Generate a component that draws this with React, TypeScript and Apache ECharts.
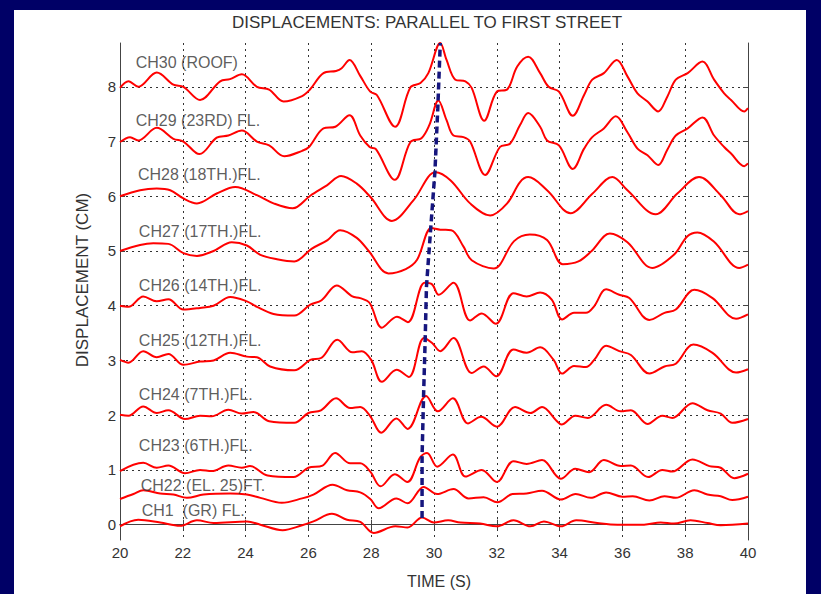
import React, { useEffect, useRef } from "react";
import * as echarts from "echarts";

// ---- data ----
const yTicks = [0, 1, 2, 3, 4, 5, 6, 7, 8];
const channelNames = [
  "CH30 (ROOF)",
  "CH29 (23RD) FL.",
  "CH28 (18TH.)FL.",
  "CH27 (17TH.)FL.",
  "CH26 (14TH.)FL.",
  "CH25 (12TH.)FL.",
  "CH24 (7TH.)FL.",
  "CH23 (6TH.)FL.",
  "CH22 (EL. 25)FT.",
  "CH1  (GR) FL.",
];
const baselines = [8, 7, 6, 5, 4, 3, 2, 1, 0.5, 0];
const labelT = [20.5, 20.5, 20.57, 20.6, 20.6, 20.6, 20.6, 20.6, 20.66, 20.69];
const labelY = [8.44, 7.38, 6.39, 5.35, 4.37, 3.37, 2.37, 1.44, 0.71, 0.25];

// [time (s), deviation from baseline (cm)]
const ch30: [number, number][] = [
  [20, -0.02], [20.27, 0.1], [20.58, 0.0], [21.17, 0.26], [21.7, 0.04], [22.02, 0.0], [22.55, -0.24],
  [23.19, 0.1], [23.5, 0.14], [23.88, 0.23], [24.36, 0.0], [24.75, -0.05], [25.21, -0.27], [25.8, -0.17],
  [26.05, -0.05], [26.48, 0.25], [26.88, 0.29], [27.06, 0.34], [27.31, 0.49], [27.65, 0.2], [27.97, -0.09],
  [28.18, -0.15], [28.76, -0.73], [29.25, -0.01], [29.57, 0.07], [29.82, 0.25], [30.2, 0.8], [30.4, 0.49],
  [30.68, 0.13], [31.0, 0.1], [31.2, -0.02], [31.6, -0.62], [32.0, -0.09], [32.33, -0.05], [32.65, 0.37],
  [33.0, 0.55], [33.38, 0.25], [33.65, 0.0], [33.98, -0.09], [34.42, -0.53], [34.78, -0.15], [35.04, 0.13],
  [35.41, 0.25], [35.82, 0.49], [36.16, 0.19], [36.48, -0.12], [36.8, -0.27], [37.14, -0.45], [37.43, -0.18],
  [37.7, 0.13], [38.08, 0.25], [38.55, 0.46], [38.92, 0.13], [39.24, -0.12], [39.46, -0.24], [39.88, -0.45],
  [40, -0.39],
];
const ch29: [number, number][] = [
  [20, -0.01], [20.32, 0.08], [20.58, 0.02], [21.17, 0.25], [21.7, 0.05], [22.02, 0.0], [22.53, -0.23],
  [23.08, 0.07], [23.45, 0.11], [23.88, 0.2], [24.36, 0.0], [24.75, -0.07], [25.23, -0.27], [25.8, -0.17],
  [26.02, -0.1], [26.48, 0.24], [26.86, 0.27], [27.31, 0.48], [27.65, 0.11], [27.95, -0.1], [28.15, -0.14],
  [28.75, -0.7], [29.25, -0.01], [29.6, 0.06], [29.85, 0.3], [30.14, 0.75], [30.4, 0.39], [30.62, 0.11],
  [30.94, 0.08], [31.15, 0.0], [31.63, -0.61], [32.1, -0.1], [32.42, -0.04], [32.74, 0.3], [33.0, 0.52],
  [33.38, 0.27], [33.6, 0.02], [33.98, -0.07], [34.42, -0.5], [34.78, -0.13], [35.04, 0.08], [35.41, 0.24],
  [35.79, 0.46], [36.16, 0.17], [36.48, -0.13], [36.8, -0.25], [37.14, -0.43], [37.43, -0.15], [37.7, 0.11],
  [38.08, 0.24], [38.55, 0.44], [38.92, 0.11], [39.24, -0.1], [39.46, -0.22], [39.88, -0.45], [40, -0.4],
];
const ch28: [number, number][] = [
  [20, 0.0], [20.64, 0.11], [21.17, 0.14], [21.6, 0.11], [22.02, -0.04], [22.45, -0.13], [23.08, 0.05],
  [23.67, 0.17], [24.36, 0.02], [24.89, -0.13], [25.5, -0.22], [26.06, 0.01], [26.59, 0.2], [27.04, 0.37],
  [27.54, 0.23], [27.97, -0.01], [28.66, -0.45], [29.35, -0.07], [30.05, 0.44], [30.53, 0.29], [31.15, -0.13],
  [31.79, -0.35], [32.33, -0.13], [32.74, 0.26], [33.0, 0.35], [33.6, 0.11], [34.35, -0.31], [35.05, 0.05],
  [35.68, 0.35], [36.16, 0.11], [37.06, -0.33], [37.75, 0.05], [38.44, 0.35], [39.13, 0.02], [39.72, -0.33],
  [40, -0.27],
];
const ch27: [number, number][] = [
  [20, 0.0], [20.64, 0.11], [21.06, 0.14], [21.54, 0.13], [22.02, -0.04], [22.45, -0.09], [22.98, 0.0],
  [23.56, 0.16], [24.04, 0.1], [24.47, -0.07], [25.0, -0.15], [25.55, -0.19], [26.1, 0.04], [26.61, 0.2],
  [27.01, 0.38], [27.54, 0.24], [27.92, 0.0], [28.55, -0.41], [29.1, -0.33], [29.46, -0.16], [29.92, 0.42],
  [30.2, 0.39], [30.55, 0.38], [30.94, 0.08], [31.2, -0.17], [31.9, -0.32], [32.55, 0.18], [33.05, 0.3],
  [33.6, 0.2], [34.1, -0.24], [34.6, -0.19], [35.02, 0.0], [35.6, 0.32], [36.16, 0.16], [36.95, -0.31],
  [37.64, -0.07], [38.07, 0.27], [38.39, 0.34], [38.92, 0.17], [39.72, -0.31], [40, -0.25],
];
const ch26: [number, number][] = [
  [20, 0.0], [20.27, -0.02], [20.74, 0.17], [21.17, 0.08], [21.54, 0.12], [22.02, -0.07], [22.55, -0.04],
  [22.98, 0.0], [23.51, 0.16], [24.04, 0.08], [24.36, -0.02], [24.89, -0.15], [25.55, -0.18], [26.06, 0.02],
  [26.42, 0.1], [26.9, 0.37], [27.4, 0.17], [27.65, 0.14], [27.95, 0.05], [28.34, -0.4], [28.82, -0.2],
  [29.17, -0.3], [29.7, 0.42], [29.94, 0.39], [30.15, 0.2], [30.62, 0.42], [31.15, -0.27], [31.52, -0.14],
  [31.97, -0.33], [32.53, 0.23], [32.95, 0.17], [33.38, 0.24], [33.75, 0.11], [34.08, -0.25], [34.46, -0.13],
  [34.84, -0.13], [35.1, -0.01], [35.48, 0.3], [35.9, 0.2], [36.22, 0.14], [36.86, -0.26], [37.34, -0.13],
  [37.7, -0.07], [38.29, 0.29], [38.87, 0.14], [39.62, -0.24], [40, -0.16],
];
const ch25: [number, number][] = [
  [20, 0.01], [20.27, -0.04], [20.74, 0.17], [21.17, 0.06], [21.54, 0.12], [22.02, -0.08], [22.55, -0.02],
  [22.98, 0.0], [23.51, 0.14], [24.04, 0.07], [24.36, 0.06], [24.78, -0.11], [25.55, -0.18], [26.06, 0.01],
  [26.42, 0.05], [26.92, 0.38], [27.4, 0.15], [27.7, 0.17], [28.0, 0.01], [28.34, -0.39], [28.81, -0.17],
  [29.2, -0.3], [29.68, 0.41], [29.94, 0.32], [30.2, 0.17], [30.62, 0.41], [31.2, -0.23], [31.58, -0.11],
  [31.98, -0.29], [32.53, 0.2], [32.95, 0.14], [33.38, 0.24], [33.81, 0.01], [34.08, -0.24], [34.46, -0.1],
  [34.84, -0.12], [35.1, 0.01], [35.48, 0.27], [35.9, 0.17], [36.27, 0.1], [36.86, -0.24], [37.34, -0.11],
  [37.7, -0.06], [38.26, 0.29], [38.87, 0.14], [39.62, -0.22], [40, -0.16],
];
const ch24: [number, number][] = [
  [20, 0.01], [20.27, -0.01], [20.74, 0.16], [21.17, 0.04], [21.54, 0.09], [22.07, -0.07], [22.55, -0.01],
  [22.92, -0.02], [23.45, 0.1], [23.88, 0.03], [24.25, 0.06], [24.75, -0.11], [25.55, -0.14], [26.0, 0.04],
  [26.4, 0.09], [26.88, 0.31], [27.33, 0.13], [27.65, 0.15], [27.97, -0.02], [28.32, -0.32], [28.8, -0.06],
  [29.16, -0.25], [29.75, 0.35], [30.12, 0.07], [30.6, 0.31], [31.08, -0.15], [31.5, -0.03], [32.0, -0.21],
  [32.58, 0.15], [33.07, 0.04], [33.44, 0.15], [33.9, -0.1], [34.06, -0.17], [34.5, -0.01], [34.9, -0.05],
  [35.48, 0.19], [35.95, 0.07], [36.27, 0.09], [36.8, -0.16], [37.27, -0.01], [37.59, -0.05], [38.23, 0.22],
  [38.71, 0.09], [39.13, 0.03], [39.5, -0.14], [40, -0.07],
];
const ch23: [number, number][] = [
  [20, -0.02], [20.74, 0.13], [21.17, 0.04], [21.54, 0.08], [22.07, -0.06], [22.55, 0.0], [22.92, -0.02],
  [23.45, 0.08], [23.88, 0.04], [24.14, 0.07], [24.7, -0.1], [25.53, -0.13], [26.0, 0.04], [26.45, 0.08],
  [26.85, 0.31], [27.33, 0.12], [27.65, 0.12], [27.97, -0.03], [28.3, -0.3], [28.75, -0.08], [29.15, -0.22],
  [29.56, 0.23], [29.78, 0.31], [30.1, 0.06], [30.6, 0.28], [31.0, -0.12], [31.52, 0.0], [32.0, -0.22],
  [32.53, 0.16], [32.95, 0.11], [33.44, 0.18], [34.04, -0.16], [34.5, 0.02], [34.94, -0.04], [35.41, 0.18],
  [35.95, 0.07], [36.27, 0.08], [36.82, -0.13], [37.27, 0.0], [37.59, -0.03], [38.23, 0.19], [38.77, 0.07],
  [39.13, 0.04], [39.56, -0.15], [40, -0.07],
];
const ch22: [number, number][] = [
  [20, -0.03], [20.43, 0.06], [20.74, 0.13], [21.28, 0.07], [21.7, 0.05], [22.13, -0.01], [22.66, 0.05],
  [23.51, 0.07], [24.04, 0.05], [24.47, -0.01], [25.15, -0.1], [25.8, -0.02], [26.16, 0.05], [26.77, 0.23],
  [27.23, 0.13], [27.65, 0.09], [27.97, -0.03], [28.24, -0.2], [28.8, -0.02], [29.16, -0.11], [29.67, 0.19],
  [30.1, 0.06], [30.62, 0.15], [31.1, -0.02], [31.58, 0.0], [32.02, -0.09], [32.5, 0.06], [32.95, 0.07],
  [33.44, 0.12], [34.04, -0.04], [34.51, 0.06], [34.99, -0.01], [35.48, 0.09], [36.0, 0.01], [36.33, 0.02],
  [36.86, -0.06], [37.34, 0.02], [37.7, -0.01], [38.29, 0.13], [38.71, 0.05], [39.13, 0.02], [39.5, -0.05],
  [40, 0.01],
];
const ch1: [number, number][] = [
  [20, -0.03], [20.58, 0.09], [21.28, 0.04], [21.91, -0.02], [22.45, 0.08], [22.98, 0.03], [24.04, 0.06],
  [24.47, 0.0], [25.18, -0.1], [25.8, -0.01], [26.16, 0.06], [26.75, 0.2], [27.23, 0.09], [27.65, 0.05],
  [28.08, -0.15], [28.77, -0.03], [29.16, -0.05], [29.62, 0.13], [29.99, 0.04], [30.45, 0.08], [30.84, 0.04],
  [31.47, 0.02], [32.0, -0.03], [32.53, 0.08], [33.07, -0.03], [33.5, 0.06], [34.04, -0.03], [34.53, 0.08],
  [35.2, 0.03], [35.84, 0.0], [36.69, 0.0], [37.22, 0.04], [37.64, 0.02], [38.17, 0.08], [38.71, 0.03],
  [39.13, -0.01], [40, 0.02],
];
const channels = [ch30, ch29, ch28, ch27, ch26, ch25, ch24, ch23, ch22, ch1];

// arrival line through the peaks: [time, displacement]
const arrivalLine: [number, number][] = [
  [29.62, 0.12], [29.62, 1.24], [29.67, 2.4], [29.72, 3.4], [29.76, 4.35],
  [29.9, 5.45], [30.03, 6.45], [30.12, 7.6], [30.2, 8.8],
];

const FONT = "'Liberation Sans', Arial, Helvetica, sans-serif";
const TEXT = "#333";

export default function App() {
  const ref = useRef<HTMLDivElement>(null);

  useEffect(() => {
    if (!ref.current) return;
    const chart = echarts.init(ref.current, undefined, { renderer: "svg" });

    const gridLeft = 106;
    const gridTop = 33;
    const gridW = 628;
    const gridH = 497;

    const axisLineStyle = { color: "#444", width: 1 };
    const splitStyle = { color: "#333", width: 1, type: [2, 4] as number[] };

    const traceSeries = channels.map((ch, i) => ({
      type: "line" as const,
      name: channelNames[i],
      xAxisIndex: 0,
      yAxisIndex: 0,
      data: ch.map(([t, d]) => [t, +(baselines[i] + d).toFixed(3)]),
      smooth: 0.35,
      symbol: "none",
      silent: true,
      lineStyle: { color: "#ff0000", width: 2 },
      z: 3,
    }));

    chart.setOption({
      animation: false,
      backgroundColor: "#ffffff",
      textStyle: { fontFamily: FONT },
      grid: { left: gridLeft, top: gridTop, width: gridW, height: gridH, containLabel: false },
      xAxis: [
        {
          type: "value",
          min: 20,
          max: 40,
          interval: 2,
          position: "bottom",
          axisLine: { show: true, lineStyle: axisLineStyle },
          axisTick: { show: true, inside: true, length: 5, lineStyle: axisLineStyle },
          axisLabel: { color: TEXT, fontSize: 15, margin: 5, fontFamily: FONT },
          splitLine: { show: true, lineStyle: splitStyle },
        },
        {
          type: "value",
          min: 20,
          max: 40,
          interval: 2,
          position: "top",
          axisLine: { show: true, lineStyle: axisLineStyle },
          axisTick: { show: true, inside: true, length: 5, lineStyle: axisLineStyle },
          axisLabel: { show: false },
          splitLine: { show: false },
        },
      ],
      yAxis: [
        {
          type: "value",
          min: -0.28,
          max: 8.8,
          position: "left",
          axisLine: { show: true, lineStyle: axisLineStyle },
          axisTick: { show: true, inside: true, length: 5, lineStyle: axisLineStyle, customValues: yTicks },
          axisLabel: { color: TEXT, fontSize: 15, margin: 4, fontFamily: FONT, customValues: yTicks },
          splitLine: { show: true, lineStyle: splitStyle },
        },
        {
          type: "value",
          min: -0.28,
          max: 8.8,
          position: "right",
          axisLine: { show: true, lineStyle: axisLineStyle },
          axisTick: { show: true, inside: true, length: 5, lineStyle: axisLineStyle, customValues: yTicks },
          axisLabel: { show: false, customValues: yTicks },
          splitLine: { show: false },
        },
      ],
      graphic: [
        {
          type: "text",
          x: 413,
          y: 12,
          style: {
            text: "DISPLACEMENTS: PARALLEL TO FIRST STREET",
            fill: TEXT,
            fontSize: 17,
            fontFamily: FONT,
            textAlign: "center",
            textVerticalAlign: "middle",
          },
        },
        {
          type: "text",
          x: 425,
          y: 571,
          style: {
            text: "TIME (S)",
            fill: TEXT,
            fontSize: 16,
            fontFamily: FONT,
            textAlign: "center",
            textVerticalAlign: "middle",
          },
        },
        {
          type: "text",
          x: 68,
          y: 270,
          rotation: Math.PI / 2,
          style: {
            text: "DISPLACEMENT (CM)",
            fill: TEXT,
            fontSize: 17,
            fontFamily: FONT,
            textAlign: "center",
            textVerticalAlign: "middle",
          },
        },
      ],
      series: [
        ...traceSeries,
        {
          type: "line",
          name: "arrival",
          data: arrivalLine,
          symbol: "none",
          silent: true,
          lineStyle: { color: "#16167e", width: 3.5, type: [7, 4] },
          z: 5,
        },
        {
          type: "scatter",
          name: "labels",
          data: labelT.map((t, i) => ({ value: [t, labelY[i]], name: channelNames[i] })),
          symbolSize: 0,
          silent: true,
          label: {
            show: true,
            position: "right",
            distance: 0,
            formatter: (p: any) => p.name,
            color: TEXT,
            fontSize: 16,
            fontFamily: FONT,
          },
          z: 6,
        },
      ],
    });

    return () => chart.dispose();
  }, []);

  return (
    <div
      style={{
        position: "fixed",
        left: 0,
        top: 0,
        width: 821,
        height: 594,
        background: "#000066",
        overflow: "hidden",
      }}
    >
      <div
        ref={ref}
        style={{ position: "absolute", left: 14, top: 10, width: 792, height: 584, background: "#fff" }}
      />
    </div>
  );
}
